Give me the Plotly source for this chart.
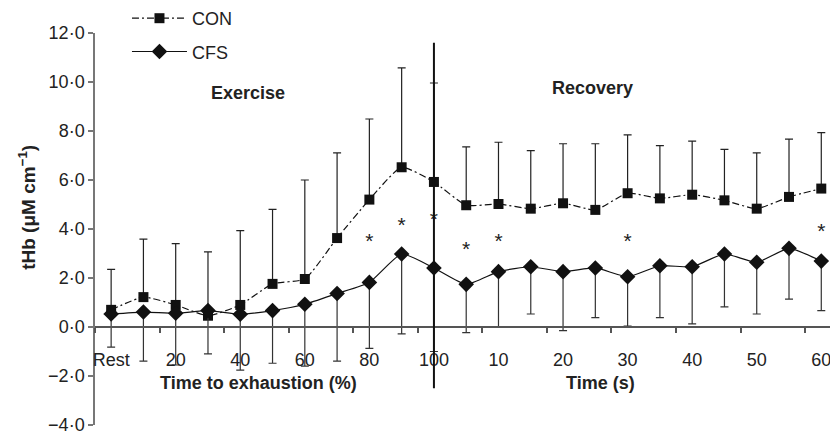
import plotly.graph_objects as go

# ---------------- data ----------------
categories = ["Rest", "10", "20", "30", "40", "50", "60", "70", "80", "90", "100",
              "5", "10", "15", "20", "25", "30", "35", "40", "45", "50", "55", "60"]

con_mean = [0.70, 1.22, 0.90, 0.46, 0.90, 1.76, 1.96, 3.63, 5.20, 6.52, 5.92,
            4.97, 5.02, 4.83, 5.05, 4.78, 5.46, 5.25, 5.40, 5.17, 4.83, 5.31, 5.65]
con_upper = [2.35, 3.59, 3.40, 3.07, 3.93, 4.80, 6.00, 7.11, 8.49, 10.58, 9.96,
             7.35, 7.54, 7.20, 7.48, 7.48, 7.84, 7.40, 7.59, 7.25, 7.11, 7.67, 7.93]

cfs_mean = [0.53, 0.61, 0.56, 0.67, 0.52, 0.67, 0.93, 1.37, 1.82, 2.98, 2.41,
            1.74, 2.26, 2.46, 2.26, 2.41, 2.05, 2.50, 2.46, 2.98, 2.64, 3.21, 2.69]
cfs_lower = [-0.82, -1.39, -1.55, -1.10, -1.76, -1.48, -1.60, -1.39, -0.87, -0.28, -1.00,
             -0.23, 0.00, 0.53, -0.15, 0.38, 0.04, 0.38, 0.13, 0.82, 0.53, 1.14, 0.67]

sig_index = [8, 9, 10, 11, 12, 16, 22]
sig_y = [3.45, 4.1, 4.35, 3.1, 3.45, 3.45, 3.85]

x_tick_index = [0, 2, 4, 6, 8, 10, 12, 14, 16, 18, 20, 22]
x_tick_labels = ["Rest", "20", "40", "60", "80", "100", "10", "20", "30", "40", "50", "60"]
x_minor_ticks = [-0.5, 1.5, 3.5, 5.5, 7.5, 9.5, 11.5, 13.5, 15.5, 17.5, 19.5, 21.5]

y_tick_vals = [-4, -2, 0, 2, 4, 6, 8, 10, 12]
y_tick_labels = ["\u22124\u00b70", "\u22122\u00b70", "0\u00b70", "2\u00b70", "4\u00b70",
                 "6\u00b70", "8\u00b70", "10\u00b70", "12\u00b70"]

divider_index = 10
divider_range = [-2.5, 11.6]

# ---------------- figure ----------------
FONT = "Liberation Sans, Arial, Helvetica, sans-serif"
x = list(range(len(categories)))

con_plus = [u - m for u, m in zip(con_upper, con_mean)]
cfs_minus = [m - l for m, l in zip(cfs_mean, cfs_lower)]

fig = go.Figure()

fig.add_trace(go.Scatter(
    x=x, y=con_mean, name="CON", mode="lines+markers",
    line=dict(color="#111", width=1.2, dash="7px,3px,2px,3px", shape="spline", smoothing=0.5),
    marker=dict(symbol="square", size=10, color="#111"),
    error_y=dict(type="data", symmetric=False, array=con_plus,
                 arrayminus=[0] * len(con_plus), color="#222", thickness=1.2, width=4),
    legend="legend",
))

fig.add_trace(go.Scatter(
    x=x, y=cfs_mean, name="CFS", mode="lines+markers",
    line=dict(color="#111", width=1.2, shape="spline", smoothing=0.5),
    marker=dict(symbol="diamond", size=12, color="#111"),
    error_y=dict(type="data", symmetric=False, array=[0] * len(cfs_minus),
                 arrayminus=cfs_minus, color="#333", thickness=1.2, width=4),
    legend="legend2",
))

fig.add_trace(go.Scatter(
    x=sig_index, y=sig_y, mode="text", text=["*"] * len(sig_index),
    textfont=dict(family=FONT, size=21, color="#222"), showlegend=False,
    hoverinfo="skip",
))

fig.add_shape(type="line", xref="x", yref="y",
              x0=divider_index, x1=divider_index, y0=divider_range[0], y1=divider_range[1],
              line=dict(color="#111", width=2))

bold = dict(family=FONT, size=18, color="#222")
fig.add_annotation(x=4.25, y=9.55, xref="x", yref="y", text="<b>Exercise</b>",
                   showarrow=False, font=bold)
fig.add_annotation(x=14.9, y=9.76, xref="x", yref="y", text="<b>Recovery</b>",
                   showarrow=False, font=bold)
fig.add_annotation(x=4.56, y=-2.29, xref="x", yref="y", text="<b>Time to exhaustion (%)</b>",
                   showarrow=False, font=bold)
fig.add_annotation(x=15.16, y=-2.29, xref="x", yref="y", text="<b>Time (s)</b>",
                   showarrow=False, font=bold)
fig.add_annotation(x=-0.092, y=0.555, xref="paper", yref="paper",
                   xanchor="center", yanchor="middle",
                   text="<b>tHb (\u03bcM cm<sup>\u22121</sup>)</b>", textangle=-90,
                   showarrow=False, font=dict(family=FONT, size=19, color="#222"))

fig.update_layout(
    width=830, height=436,
    margin=dict(l=95, r=0, t=33, b=11),
    paper_bgcolor="white", plot_bgcolor="white",
    font=dict(family=FONT, size=18, color="#222"),
    xaxis=dict(
        range=[-0.5, 22.27], anchor="free", position=0.25,
        showline=True, linecolor="#555", linewidth=1.5,
        tickmode="array", tickvals=x_tick_index, ticktext=x_tick_labels,
        ticks="outside", ticklen=17, tickcolor="rgba(0,0,0,0)",
        ticklabeloverflow="allow",
        minor=dict(tickmode="array", tickvals=x_minor_ticks, ticks="outside",
                   ticklen=5, tickwidth=1.5, tickcolor="#555"),
        showgrid=False, zeroline=False,
        tickfont=dict(family=FONT, size=18, color="#222"),
    ),
    yaxis=dict(
        range=[-4, 12], showline=True, linecolor="#777", linewidth=1.5,
        tickmode="array", tickvals=y_tick_vals, ticktext=y_tick_labels,
        ticks="outside", ticklen=5, tickwidth=1.5, tickcolor="#777",
        showgrid=False, zeroline=False,
        tickfont=dict(family=FONT, size=18, color="#222"),
    ),
    legend=dict(x=0.0435, y=1.038, xanchor="left", yanchor="middle",
                font=dict(family=FONT, size=18, color="#222"),
                itemwidth=55, bgcolor="rgba(0,0,0,0)"),
    legend2=dict(x=0.0435, y=0.952, xanchor="left", yanchor="middle",
                 font=dict(family=FONT, size=18, color="#222"),
                 itemwidth=55, bgcolor="rgba(0,0,0,0)"),
)

fig.write_html("out.html")
